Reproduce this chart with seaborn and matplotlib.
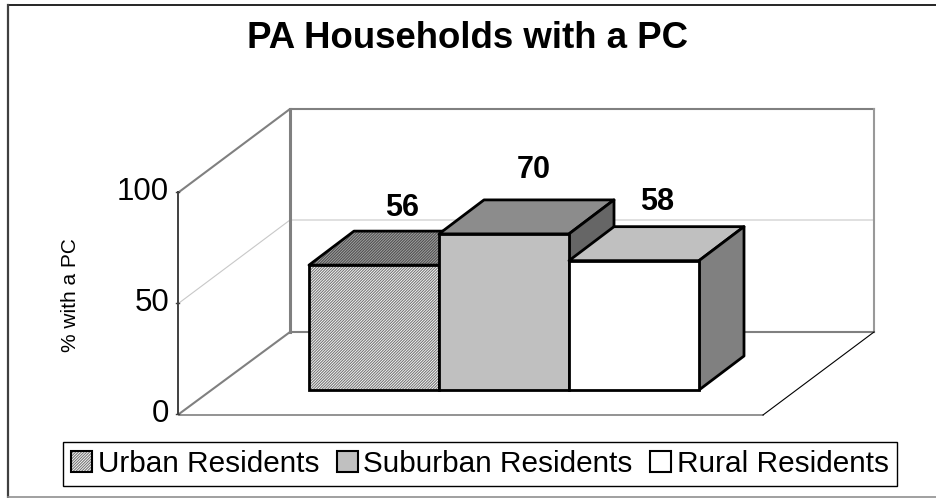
import matplotlib
matplotlib.use('Agg')
import matplotlib.pyplot as plt
from matplotlib.colors import to_rgba
from matplotlib.patches import Polygon, Patch
import seaborn as sns
import pandas as pd

# Dati del grafico
categories = ['Urban Residents', 'Suburban Residents', 'Rural Residents']
values = [56, 70, 58]
y_ticks = [0, 50, 100]

front_colors = ['white', '#c0c0c0', 'white']
top_colors = ['#a8a8a8', '#8c8c8c', '#c0c0c0']
side_colors = ['#808080', '#666666', '#808080']

W, H = 937, 498
PX_PER_X = 130.0    # larghezza di una barra in pixel
PX_PER_Y = 2.23     # pixel per punto percentuale
X0, Y0 = 374.0, 390.0   # pixel dell'origine dei dati (centro prima barra, base)
DEPTH_X, DEPTH_Y = 45, 34   # profondita' delle barre in pixel

sns.set_style('white')
plt.rcParams['font.family'] = ['Liberation Sans', 'DejaVu Sans']
plt.rcParams['text.color'] = 'black'
plt.rcParams['hatch.linewidth'] = 0.8

df = pd.DataFrame({'categoria': categories, 'valore': values})

fig = plt.figure(figsize=(W / 100, H / 100), dpi=100)
ax = fig.add_axes([0, 0, 1, 1])

sns.barplot(data=df, x='categoria', y='valore', hue='categoria', palette=front_colors,
            width=1.0, saturation=1, legend=False, edgecolor='black', linewidth=2, ax=ax)

# Gli assi coprono tutta la figura, cosi' i pixel si convertono facilmente
ax.set_xlim((0 - X0) / PX_PER_X, (W - X0) / PX_PER_X)
ax.set_ylim((Y0 - H) / PX_PER_Y, Y0 / PX_PER_Y)
ax.axis('off')


def dx(px):
    return (px - X0) / PX_PER_X


def dy(py):
    return (Y0 - py) / PX_PER_Y


def line(xs, ys, color='#808080', lw=1.5, z=1):
    ax.plot([dx(x) for x in xs], [dy(y) for y in ys], color=color, lw=lw, zorder=z,
            solid_capstyle='projecting')


# Cornice esterna (a destra non c'e')
line([8, 937], [5, 5], color='black', lw=1.2)
line([8, 8], [5, 497], color='#404040', lw=1.6)
line([8, 937], [497, 497], color='#909090', lw=1.2)

# Griglia a 50
line([179, 290, 874], [303, 220, 220], color='#c8c8c8', lw=0.8)

# Pareti e pavimento
line([179, 290, 874], [192, 109, 109], lw=1.5)
line([290, 290], [109, 332], lw=2.2)
line([874, 874], [109, 332], color='#999999', lw=1.5)
line([179, 290, 874], [414, 332, 332], lw=1.5)
line([179, 763], [415, 415], lw=1.2)
line([763, 874], [415, 332], color='black', lw=0.8)

# Asse verticale
line([178.5, 178.5], [192, 414], color='#404040', lw=1.4, z=2)
for t in y_ticks:
    py = 414 - t * 2.22
    line([176, 179], [py, py], color='#404040', lw=1)
    ax.text(dx(169), dy(py), str(t), ha='right', va='center', fontsize=22.5)

ax.text(dx(71), dy(295), '% with a PC', rotation=90, ha='center', va='center', fontsize=15)

# Facce superiori e laterali delle barre
ddx, ddy = DEPTH_X / PX_PER_X, DEPTH_Y / PX_PER_Y
bars = list(ax.patches)
for i, bar in enumerate(bars):
    xl, xr, top = bar.get_x(), bar.get_x() + bar.get_width(), bar.get_height()
    base = 4 + 3 * i
    bar.set_zorder(base + 2)
    top_face = Polygon([(xl, top), (xl + ddx, top + ddy), (xr + ddx, top + ddy), (xr, top)],
                       closed=True, facecolor=top_colors[i], edgecolor='black', linewidth=2,
                       joinstyle='round', zorder=base)
    ax.add_patch(top_face)
    ax.add_patch(Polygon([(xr, 0), (xr + ddx, ddy), (xr + ddx, top + ddy), (xr, top)],
                         closed=True, facecolor=side_colors[i], edgecolor='black', linewidth=2,
                         joinstyle='round', zorder=base + 1))
    if i == 0:
        # Retino della barra Urban
        bar.set_hatch('/' * 12)
        bar._hatch_color = to_rgba('#777777')
        top_face.set_hatch('/' * 12)
        top_face._hatch_color = to_rgba('#505050')

# Etichette dei valori
label_px = [(402, 208.5), (534, 169.5), (657, 201.5)]
for v, (px, py) in zip(values, label_px):
    ax.text(dx(px), dy(py), str(v), ha='center', va='center', fontsize=22, fontweight='bold', zorder=30)

ax.text(dx(468), dy(38.5), 'PA Households with a PC', ha='center', va='center', fontsize=26.4, fontweight='bold')

# Legenda
handles = [Patch(facecolor='white', edgecolor='black', hatch='/' * 12, linewidth=1.5),
           Patch(facecolor='#c0c0c0', edgecolor='black', linewidth=1.5),
           Patch(facecolor='white', edgecolor='black', linewidth=1.5)]
leg = ax.legend(handles, categories, ncol=3, loc='center', bbox_to_anchor=(480 / W, 1 - 464 / H),
                bbox_transform=fig.transFigure, frameon=True, fancybox=False, framealpha=1,
                edgecolor='black', fontsize=21.4, handlelength=0.7, handleheight=0.7,
                handletextpad=0.18, columnspacing=0.6, borderpad=0.27, borderaxespad=0,
                labelspacing=0)
leg.get_frame().set_linewidth(1)
leg.set_zorder(40)
leg.legend_handles[0]._hatch_color = to_rgba('#777777')

plt.savefig('out.png', dpi=100)
plt.close()
